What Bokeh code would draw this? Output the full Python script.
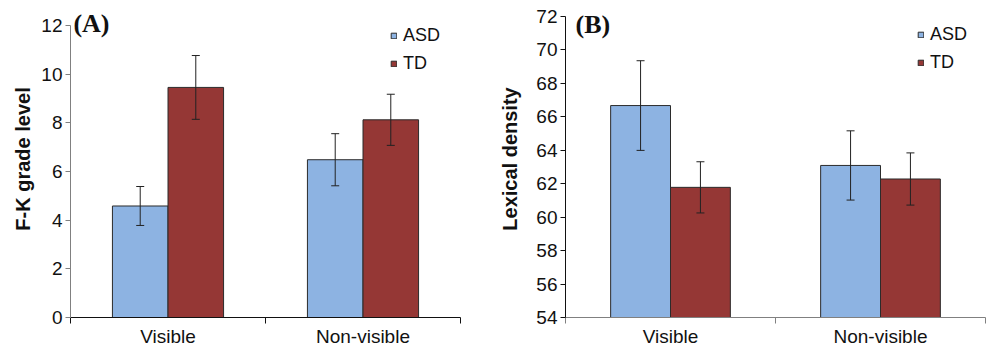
from bokeh.plotting import figure
from bokeh.layouts import row, column
from bokeh.models import (ColumnDataSource, Whisker, TeeHead, FixedTicker, Legend,
                          LegendItem, Label, Range1d)
from bokeh.embed import file_html
from bokeh.resources import INLINE

categories = ["Visible", "Non-visible"]
groups = ["ASD", "TD"]

# Panel A: F-K grade level
fk_asd = [4.58, 6.48]
fk_asd_err = [0.80, 1.07]
fk_td = [9.45, 8.12]
fk_td_err = [1.31, 1.05]

# Panel B: Lexical density
ld_asd = [66.67, 63.09]
ld_asd_err = [2.68, 2.07]
ld_td = [61.78, 62.28]
ld_td_err = [1.53, 1.56]

colors = {"ASD": "#8DB3E2", "TD": "#953735"}
BAR_W = 0.285
FONT = "Liberation Sans"


def panel(asd, asd_err, td, td_err, ymin, ymax, ytop, ylabel, tag, ylabel_standoff,
          yaxis_color, xaxis_color, borders, legend_loc, tag_pos):
    bl, br, bt, bb = borders
    p = figure(width=494, height=349, output_backend="svg", toolbar_location=None,
               x_range=Range1d(0, len(categories)), y_range=Range1d(ymin, ytop),
               min_border_left=bl, min_border_right=br, min_border_top=bt,
               min_border_bottom=bb)
    p.outline_line_color = None
    p.grid.visible = False

    centers = [i + 0.5 for i in range(len(categories))]
    renderers = []
    for k, (vals, errs, g) in enumerate([(asd, asd_err, "ASD"), (td, td_err, "TD")]):
        off = -BAR_W / 2 if k == 0 else BAR_W / 2
        xs = [c + off for c in centers]
        src = ColumnDataSource(dict(x=xs, top=vals,
                                    upper=[v + e for v, e in zip(vals, errs)],
                                    lower=[v - e for v, e in zip(vals, errs)]))
        r = p.vbar(x="x", top="top", bottom=ymin, width=BAR_W, source=src,
                   fill_color=colors[g], line_color="#2b2b2b", line_width=1)
        renderers.append((g, r))
        w = Whisker(base="x", upper="upper", lower="lower", source=src,
                    line_color="#222222", line_width=1, level="overlay",
                    upper_head=TeeHead(size=8, line_color="#222222", line_width=1),
                    lower_head=TeeHead(size=8, line_color="#222222", line_width=1))
        p.add_layout(w)

    # x axis
    xa = p.xaxis[0]
    xa.ticker = FixedTicker(ticks=centers, minor_ticks=list(range(len(categories) + 1)))
    xa.major_label_overrides = {c: lab for c, lab in zip(centers, categories)}
    xa.major_tick_out = 0
    xa.major_tick_in = 0
    xa.minor_tick_out = 6
    xa.minor_tick_in = 0
    xa.minor_tick_line_color = xaxis_color
    xa.axis_line_color = xaxis_color
    xa.major_label_text_font = FONT
    xa.major_label_text_font_size = "19px"
    xa.major_label_text_color = "#111111"
    xa.major_label_standoff = 2

    # y axis
    ya = p.yaxis[0]
    ya.ticker = FixedTicker(ticks=list(range(int(ymin), int(ymax) + 1, 2)))
    ya.bounds = (ymin, ymax)
    ya.minor_tick_line_color = None
    ya.major_tick_out = 5
    ya.major_tick_in = 0
    ya.major_tick_line_color = yaxis_color
    ya.axis_line_color = yaxis_color
    ya.major_label_text_font = FONT
    ya.major_label_text_font_size = "19px"
    ya.major_label_text_color = "#111111"
    ya.major_label_standoff = 3
    ya.axis_label = ylabel
    ya.axis_label_text_font = FONT
    ya.axis_label_text_font_style = "bold"
    ya.axis_label_text_font_size = "20px"
    ya.axis_label_text_color = "#111111"
    ya.axis_label_standoff = ylabel_standoff

    legend = Legend(items=[LegendItem(label=g, renderers=[r]) for g, r in renderers],
                    location=legend_loc, orientation="vertical",
                    glyph_width=7, glyph_height=7, label_height=21, spacing=7,
                    padding=0, margin=0, label_standoff=6,
                    border_line_color=None, background_fill_alpha=0,
                    label_text_font=FONT, label_text_font_size="18px",
                    label_text_color="#111111")
    p.add_layout(legend)

    p.add_layout(Label(x=tag_pos[0], y=tag_pos[1], text=tag,
                       text_font="Liberation Serif", text_font_style="bold",
                       text_font_size="26px", text_color="#111111",
                       text_baseline="alphabetic"))
    return p


pA = panel(fk_asd, fk_asd_err, fk_td, fk_td_err, 0, 12, 13.02, "F-K grade level", "(A)", 4,
           "#808080", "#111111", (70, 34, 0, 30), (320, 243), (0.015, 12.08))
pB = panel(ld_asd, ld_asd_err, ld_td, ld_td_err, 54, 72, 72.95, "Lexical density", "(B)", 12,
           "#111111", "#808080", (71, 3, 0, 31), (352, 244), (0.048, 71.5))

layout = row(column(pA), column(pB))
open("out.html", "w").write(file_html(layout, INLINE))
